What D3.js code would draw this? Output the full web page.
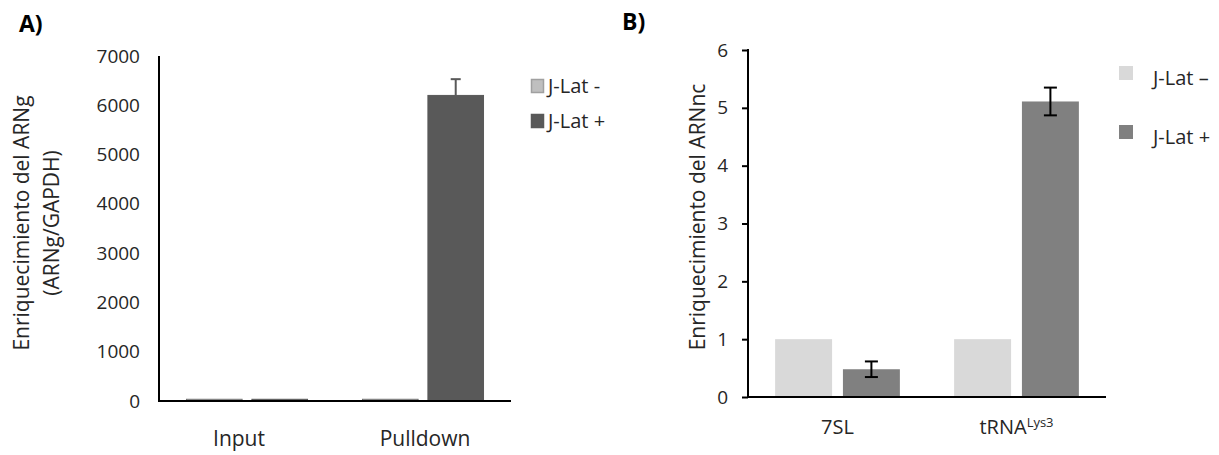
<!DOCTYPE html>
<html>
<head>
<meta charset="utf-8">
<script src="https://cdn.jsdelivr.net/npm/d3@7"></script>
<style>
  html, body { margin: 0; padding: 0; background: #fff; }
  svg { display: block; font-family: "Open Sans", Lato, sans-serif; }
</style>
</head>
<body>
<svg id="chart" width="1219" height="455"></svg>
<script>
// ---- Panel A data ----
const catsA = ["Input", "Pulldown"];
const seriesA = ["J-Lat -", "J-Lat +"];
const valsAminus = [35, 35];
const valsAplus = [35, 6200];
const errAplus = [0, 330];
const ticksA = [0, 1000, 2000, 3000, 4000, 5000, 6000, 7000];

// ---- Panel B data ----
const catsB = ["7SL", "tRNA"];
const seriesB = ["J-Lat \u2013", "J-Lat +"];
const valsBminus = [1, 1];
const valsBplus = [0.48, 5.11];
const errBplus = [0.135, 0.24];
const ticksB = [0, 1, 2, 3, 4, 5, 6];

const svg = d3.select("#chart");
const FONT = "Open Sans";
const fs = 19;      // tick numbers
const fsT = 21;     // titles / category labels
const txt = "#262626";

// ================= Panel A =================
(function () {
  const x0 = 159, x1 = 511, yTop = 56, yBot = 401;
  const x = d3.scaleBand().domain(catsA).range([x0, x1]).paddingInner(0).paddingOuter(0);
  const xs = d3.scaleBand().domain(seriesA).range([0, x.bandwidth()]).paddingInner(0.15).paddingOuter(0.42);
  const y = d3.scaleLinear().domain([0, 7000]).range([yBot, yTop]);
  const colors = { "J-Lat -": "#bfbfbf", "J-Lat +": "#595959" };
  const strokes = { "J-Lat -": "#6f6f6f", "J-Lat +": "#595959" };
  const g = svg.append("g");

  const data = [];
  catsA.forEach((c, i) => {
    data.push({ c, s: seriesA[0], v: valsAminus[i], e: 0 });
    data.push({ c, s: seriesA[1], v: valsAplus[i], e: errAplus[i] });
  });

  g.selectAll("rect.bar").data(data).enter().append("rect")
    .attr("x", d => x(d.c) + xs(d.s))
    .attr("width", xs.bandwidth())
    .attr("y", d => y(d.v))
    .attr("height", d => y(0) - y(d.v))
    .attr("fill", d => colors[d.s])
    .attr("stroke", d => strokes[d.s])
    .attr("stroke-width", 1);

  data.filter(d => d.e > 0).forEach(d => {
    const cx = x(d.c) + xs(d.s) + xs.bandwidth() / 2;
    g.append("line").attr("x1", cx).attr("x2", cx).attr("y1", y(d.v)).attr("y2", y(d.v + d.e))
      .attr("stroke", "#595959").attr("stroke-width", 2);
    g.append("line").attr("x1", cx - 5).attr("x2", cx + 5).attr("y1", y(d.v + d.e)).attr("y2", y(d.v + d.e))
      .attr("stroke", "#595959").attr("stroke-width", 2);
  });

  const ya = d3.axisLeft(y).tickValues(ticksA).tickSize(0).tickPadding(19).tickFormat(d3.format("d"));
  const yg = g.append("g").attr("transform", `translate(${x0},0)`).call(ya);
  yg.select(".domain").remove();
  yg.selectAll("text").attr("font-size", fs).attr("fill", txt).attr("font-family", FONT);
  g.append("line").attr("x1", x0).attr("x2", x0).attr("y1", yTop).attr("y2", yBot + 1)
    .attr("stroke", "#000").attr("stroke-width", 2);

  const xa = d3.axisBottom(x).tickSize(0).tickPadding(30);
  const xg = g.append("g").attr("transform", `translate(0,${yBot})`).call(xa);
  xg.select(".domain").remove();
  xg.selectAll("text").attr("font-size", fsT).attr("fill", txt).attr("font-family", FONT)
    .attr("dx", (d, i) => i === 0 ? -8 : 2);
  g.append("line").attr("x1", x0 - 1).attr("x2", x1).attr("y1", yBot).attr("y2", yBot)
    .attr("stroke", "#000").attr("stroke-width", 2);

  const t = g.append("text").attr("transform", "translate(29,223) rotate(-90)")
    .attr("text-anchor", "middle").attr("font-size", fsT).attr("fill", txt).attr("font-family", FONT);
  t.append("tspan").attr("x", 0).attr("dy", 0).text("Enriquecimiento del ARNg");
  t.append("tspan").attr("x", 0).attr("dy", 30).text("(ARNg/GAPDH)");

  seriesA.forEach((s, i) => {
    const ly = 79 + i * 35;
    g.append("rect").attr("x", 531.5).attr("y", ly + 0.5).attr("width", 12).attr("height", 13)
      .attr("fill", colors[s]).attr("stroke", s === seriesA[0] ? "#a0a0a0" : strokes[s]).attr("stroke-width", 1.5);
    g.append("text").attr("x", 548).attr("y", ly + 14).attr("font-size", 20).attr("fill", txt)
      .attr("font-family", FONT).text(s);
  });

  svg.append("text").attr("x", 19).attr("y", 32).attr("font-size", 23).attr("font-weight", "bold")
    .attr("fill", "#000").attr("font-family", FONT).text("A)");
})();

// ================= Panel B =================
(function () {
  const x0 = 748, x1 = 1106, yTop = 50, yBot = 397;
  const x = d3.scaleBand().domain(catsB).range([x0, x1]).paddingInner(0).paddingOuter(0);
  const xs = d3.scaleBand().domain(seriesB).range([0, x.bandwidth()]).paddingInner(0.16).paddingOuter(0.4);
  const y = d3.scaleLinear().domain([0, 6]).range([yBot, yTop]);
  const colors = { [seriesB[0]]: "#d9d9d9", [seriesB[1]]: "#808080" };
  const g = svg.append("g");

  const data = [];
  catsB.forEach((c, i) => {
    data.push({ c, s: seriesB[0], v: valsBminus[i], e: 0 });
    data.push({ c, s: seriesB[1], v: valsBplus[i], e: errBplus[i] });
  });

  g.selectAll("rect.bar").data(data).enter().append("rect")
    .attr("x", d => x(d.c) + xs(d.s))
    .attr("width", xs.bandwidth())
    .attr("y", d => y(d.v))
    .attr("height", d => y(0) - y(d.v))
    .attr("fill", d => colors[d.s]);

  data.filter(d => d.e > 0).forEach(d => {
    const cx = x(d.c) + xs(d.s) + xs.bandwidth() / 2;
    const yh = y(d.v + d.e), yl = y(d.v - d.e);
    g.append("line").attr("x1", cx).attr("x2", cx).attr("y1", yh).attr("y2", yl)
      .attr("stroke", "#000").attr("stroke-width", 2);
    [yh, yl].forEach(yy => g.append("line").attr("x1", cx - 6.5).attr("x2", cx + 6.5)
      .attr("y1", yy).attr("y2", yy).attr("stroke", "#000").attr("stroke-width", 2));
  });

  const ya = d3.axisLeft(y).tickValues(ticksB).tickSize(6).tickPadding(14).tickFormat(d3.format("d"));
  const yg = g.append("g").attr("transform", `translate(${x0},0)`).call(ya);
  yg.select(".domain").remove();
  yg.selectAll(".tick line").attr("stroke", "#000").attr("stroke-width", 2);
  yg.selectAll("text").attr("font-size", fs).attr("fill", txt).attr("font-family", FONT);
  g.append("line").attr("x1", x0).attr("x2", x0).attr("y1", yTop - 1).attr("y2", yBot + 1)
    .attr("stroke", "#000").attr("stroke-width", 2);

  const xa = d3.axisBottom(x).tickSize(0).tickPadding(23).tickFormat(() => "");
  const xg = g.append("g").attr("transform", `translate(0,${yBot})`).call(xa);
  xg.select(".domain").remove();
  xg.selectAll(".tick").each(function (d) {
    const tx = d3.select(this).select("text").text(null)
      .attr("font-size", 20).attr("fill", txt).attr("font-family", FONT).attr("dy", "0.71em");
    tx.append("tspan").text(d);
    if (d === "tRNA") tx.append("tspan").attr("font-size", 13).attr("dy", "-0.55em").text("Lys3");
  });
  g.append("line").attr("x1", x0 - 1).attr("x2", x1).attr("y1", yBot).attr("y2", yBot)
    .attr("stroke", "#000").attr("stroke-width", 2);

  g.append("text").attr("transform", "translate(705,217) rotate(-90)")
    .attr("text-anchor", "middle").attr("font-size", fsT).attr("fill", txt).attr("font-family", FONT)
    .text("Enriquecimiento del ARNnc");

  seriesB.forEach((s, i) => {
    const ly = 66 + i * 59;
    g.append("rect").attr("x", 1119).attr("y", ly).attr("width", 14).attr("height", 14).attr("fill", colors[s]);
    g.append("text").attr("x", 1153).attr("y", ly + 19).attr("font-size", 20).attr("fill", txt)
      .attr("font-family", FONT).text(s);
  });

  svg.append("text").attr("x", 622).attr("y", 30).attr("font-size", 23).attr("font-weight", "bold")
    .attr("fill", "#000").attr("font-family", FONT).text("B)");
})();
</script>
</body>
</html>
